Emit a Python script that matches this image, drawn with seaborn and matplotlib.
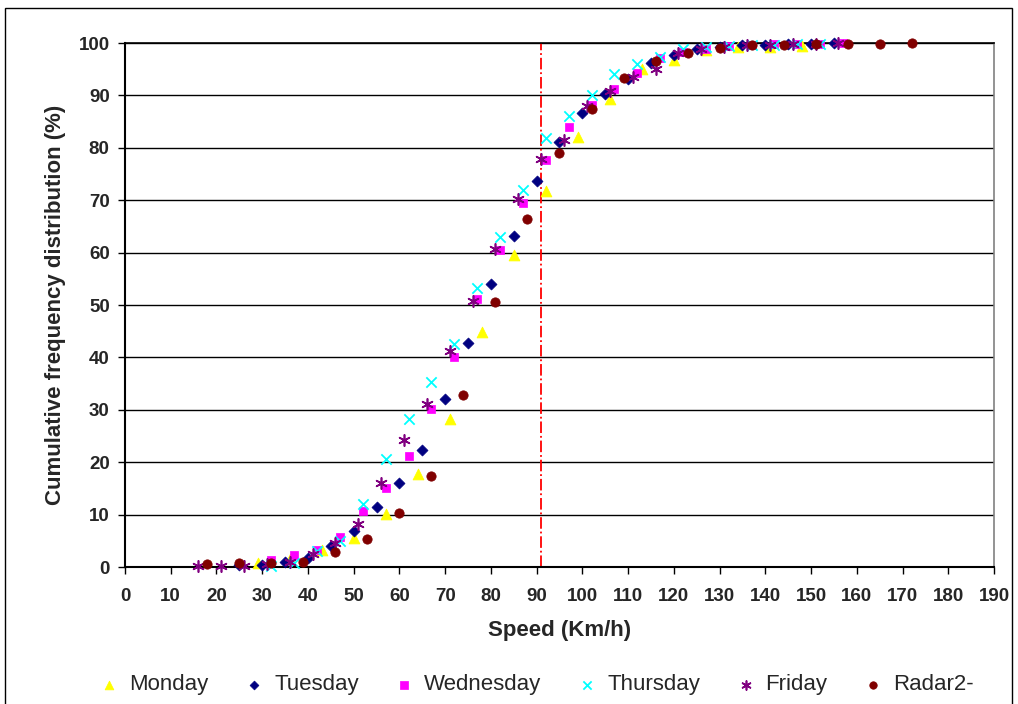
import matplotlib
matplotlib.use("Agg")
import matplotlib.pyplot as plt
import seaborn as sns
import pandas as pd
from matplotlib.patches import Rectangle

# ---- data (speed km/h, cumulative %) ----
monday_x = [29, 36, 43, 50, 57, 64, 71, 78, 85, 92, 99, 106, 113, 120, 127, 134, 141, 148]
monday_y = [0.8, 1.6, 3.2, 5.6, 10.1, 17.7, 28.3, 44.8, 59.5, 71.8, 82.1, 89.4, 95.0, 96.8, 98.7, 99.3, 99.3, 99.4]

tuesday_x = [25, 30, 35, 40, 45, 50, 55, 60, 65, 70, 75, 80, 85, 90, 95, 100, 105, 110, 115, 120, 125, 130, 135, 140, 145, 150, 155]
tuesday_y = [0.3, 0.4, 0.9, 1.8, 4.0, 6.8, 11.4, 16.0, 22.3, 32.1, 42.8, 54.1, 63.2, 73.7, 81.2, 86.7, 90.3, 93.2, 96.2, 97.7, 98.8, 99.2, 99.6, 99.6, 99.8, 99.9, 100.0]

wednesday_x = [32, 37, 42, 47, 52, 57, 62, 67, 72, 77, 82, 87, 92, 97, 102, 107, 112, 117, 122, 127, 132, 137, 142, 147, 152, 157]
wednesday_y = [1.3, 2.2, 3.2, 5.8, 10.6, 15.1, 21.2, 30.2, 40.0, 51.1, 60.5, 69.4, 77.7, 84.0, 88.2, 91.2, 94.2, 97.1, 98.3, 98.9, 99.4, 99.6, 99.8, 99.8, 99.9, 100.0]

thursday_x = [32, 37, 42, 47, 52, 57, 62, 67, 72, 77, 82, 87, 92, 97, 102, 107, 112, 117, 122, 127, 132, 137, 142, 147, 152]
thursday_y = [0.2, 0.8, 3.1, 5.0, 12.0, 20.7, 28.2, 35.3, 42.6, 53.3, 62.9, 71.9, 81.9, 86.1, 90.0, 94.1, 95.9, 97.4, 98.9, 99.2, 99.4, 99.6, 99.7, 99.8, 99.9]

friday_x = [16, 21, 26, 31, 36, 41, 46, 51, 56, 61, 66, 71, 76, 81, 86, 91, 96, 101, 106, 111, 116, 121, 126, 131, 136, 141, 146, 151, 156]
friday_y = [0.1, 0.2, 0.2, 0.5, 1.0, 2.5, 4.5, 8.3, 16.0, 24.2, 31.1, 41.2, 50.8, 60.7, 70.2, 77.8, 81.4, 88.0, 90.8, 93.6, 95.1, 98.0, 98.8, 99.3, 99.6, 99.7, 99.8, 99.9, 100.0]

radar_x = [18, 25, 32, 39, 46, 53, 60, 67, 74, 81, 88, 95, 102, 109, 116, 123, 130, 137, 144, 151, 158, 165, 172]
radar_y = [0.5, 0.7, 0.8, 1.0, 2.9, 5.4, 10.4, 17.3, 32.8, 50.6, 66.4, 79.1, 87.4, 93.4, 96.6, 98.0, 99.0, 99.6, 99.7, 99.8, 99.9, 99.9, 100.0]

series_names = ["Monday", "Tuesday", "Wednesday", "Thursday", "Friday", "Radar2-"]
limit_speed = 91

x_ticks = list(range(0, 191, 10))
y_ticks = list(range(0, 101, 10))

# ---- styling ----
sns.set_theme(style="white")
plt.rcParams['font.family'] = ['Liberation Sans', 'DejaVu Sans']

fig = plt.figure(figsize=(10.18, 7.04), dpi=100)
ax = fig.add_axes([0.1228, 0.1946, 0.9764 - 0.1228, 0.9389 - 0.1946])

styles = {
    "Monday": dict(marker="^", color="#FFFF00", s=60, edgecolor="#FFFF00"),
    "Tuesday": dict(marker="D", color="#000080", s=32, edgecolor="#000080"),
    "Wednesday": dict(marker="s", color="#FF00FF", s=40, edgecolor="#FF00FF"),
    "Thursday": dict(marker="x", color="#00FFFF", s=55, linewidths=1.3),
    "Friday": dict(marker=(6, 2, 0), color="#800080", s=65, linewidths=1.2),
    "Radar2-": dict(marker="o", color="#800000", s=45, edgecolor="#800000"),
}
data = {
    "Monday": (monday_x, monday_y),
    "Tuesday": (tuesday_x, tuesday_y),
    "Wednesday": (wednesday_x, wednesday_y),
    "Thursday": (thursday_x, thursday_y),
    "Friday": (friday_x, friday_y),
    "Radar2-": (radar_x, radar_y),
}

for name in series_names:
    xs, ys = data[name]
    df = pd.DataFrame({"speed": xs, "cum": ys})
    sns.scatterplot(data=df, x="speed", y="cum", ax=ax, label=name,
                    zorder=3, clip_on=False, **styles[name])

ax.axvline(limit_speed, ymin=0, ymax=1, color="red", linestyle="-.", linewidth=1.3, zorder=2)

ax.set_xlim(0, 190)
ax.set_ylim(0, 100)
ax.set_xticks(x_ticks)
ax.set_yticks(y_ticks)
ax.set_xticklabels([str(t) for t in x_ticks], fontsize=13.5, fontweight="bold")
ax.set_yticklabels([str(t) for t in y_ticks], fontsize=13.5, fontweight="bold")
ax.tick_params(axis="both", direction="out", length=5, width=1, color="black", bottom=True, left=True)
ax.tick_params(axis="x", pad=10)
ax.tick_params(axis="y", pad=6)

ax.yaxis.grid(True, color="black", linewidth=1)
ax.xaxis.grid(False)
ax.set_axisbelow(True)
for side in ["left", "bottom"]:
    ax.spines[side].set_color("black")
    ax.spines[side].set_linewidth(1.5)
ax.spines["top"].set_color("black")
ax.spines["top"].set_linewidth(1.2)
ax.spines["right"].set_color("#808080")
ax.spines["right"].set_linewidth(1.2)

ax.set_xlabel("Speed (Km/h)", fontsize=16, fontweight="bold", labelpad=11)
ax.set_ylabel("Cumulative frequency distribution (%)", fontsize=16, fontweight="bold", labelpad=9)

leg = ax.legend(loc="center", bbox_to_anchor=(0.473, -0.225), ncol=6, frameon=False,
                fontsize=16, handlelength=1.0, handletextpad=0.4, columnspacing=1.55,
                markerscale=0.8, borderaxespad=0, borderpad=0)

fig.patches.append(Rectangle((5 / 1018, -0.01), (1012 - 5) / 1018, 1 - 8 / 704 + 0.01,
                             transform=fig.transFigure, fill=False, edgecolor="black",
                             linewidth=1))

fig.savefig("out.png", dpi=100)
